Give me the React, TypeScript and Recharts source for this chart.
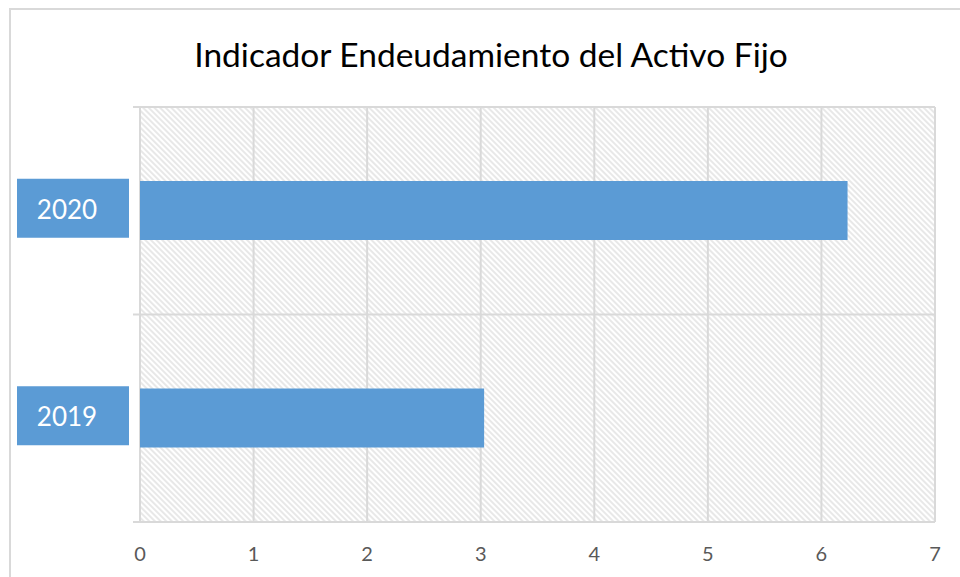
import React from "react";
import { BarChart, Bar, XAxis, YAxis, CartesianGrid } from "recharts";

const title = "Indicador Endeudamiento del Activo Fijo";
const categories = ["2020", "2019"];
const values = [6.23, 3.03];
const xTicks = [0, 1, 2, 3, 4, 5, 6, 7];

const data = categories.map((year, i) => ({ year, value: values[i] }));

const FONT = "Lato, 'Open Sans', sans-serif";
const GRID = "#d9d9d9";
const BLUE = "#5b9bd5";

// year labels sit in filled boxes like the Excel original
const YearTick = (props: any) => {
  const { y, payload } = props;
  return (
    <g>
      <rect x={17} y={y - 32} width={112} height={59} fill={BLUE} />
      <text
        x={67}
        y={y - 2}
        fill="#ffffff"
        fontSize={26}
        fontFamily={FONT}
        textAnchor="middle"
        dominantBaseline="central"
      >
        {payload.value}
      </text>
    </g>
  );
};

// grid lines at the category boundaries, poking out a bit to the left
const HLine = (props: any) => {
  const { x1, x2, y1, y2 } = props;
  return <line x1={x1 - 7} x2={x2} y1={y1} y2={y2} stroke={GRID} strokeWidth={2} />;
};

const App = () => {
  return (
    <div style={{ position: "absolute", left: 0, top: 0, width: 960, height: 577, overflow: "hidden", background: "#fff" }}>
      <svg width={0} height={0} style={{ position: "absolute" }}>
        <defs>
          <pattern id="hatch" patternUnits="userSpaceOnUse" width={4} height={4} patternTransform="rotate(-45)">
            <rect width={4} height={4} fill="#ffffff" />
            <line x1={1} y1={0} x2={1} y2={4} stroke="#dcdcdc" strokeWidth={1.3} />
          </pattern>
        </defs>
      </svg>
      <div
        style={{
          position: "absolute",
          left: 9,
          top: 8,
          width: 980,
          height: 600,
          borderLeft: `2px solid ${GRID}`,
          borderTop: `2px solid ${GRID}`,
        }}
      />
      <div
        style={{
          position: "absolute",
          left: 0,
          top: 33,
          width: 982,
          textAlign: "center",
          fontFamily: FONT,
          fontSize: 33.5,
          color: "#000",
          lineHeight: "42px",
        }}
      >
        {title}
      </div>
      <div style={{ position: "absolute", left: 0, top: 0 }}>
        <BarChart
          width={960}
          height={577}
          data={data}
          layout="vertical"
          margin={{ top: 107, right: 25, bottom: 25, left: 10 }}
        >
          <CartesianGrid
            fill="url(#hatch)"
            stroke={GRID}
            strokeWidth={2}
            horizontal={HLine}
            horizontalCoordinatesGenerator={({ offset }: any) =>
              [...categories, ""].map((_, i) => offset.top + (i * offset.height) / categories.length)
            }
          />
          <XAxis
            type="number"
            domain={[0, 7]}
            ticks={xTicks}
            tickLine={false}
            axisLine={false}
            tickMargin={19}
            tick={{ fill: "#595959", fontSize: 20, fontFamily: FONT }}
          />
          <YAxis
            type="category"
            dataKey="year"
            width={130}
            tickLine={false}
            axisLine={false}
            tick={<YearTick />}
          />
          <Bar dataKey="value" fill={BLUE} barSize={59} isAnimationActive={false} />
        </BarChart>
      </div>
    </div>
  );
};

export default App;
